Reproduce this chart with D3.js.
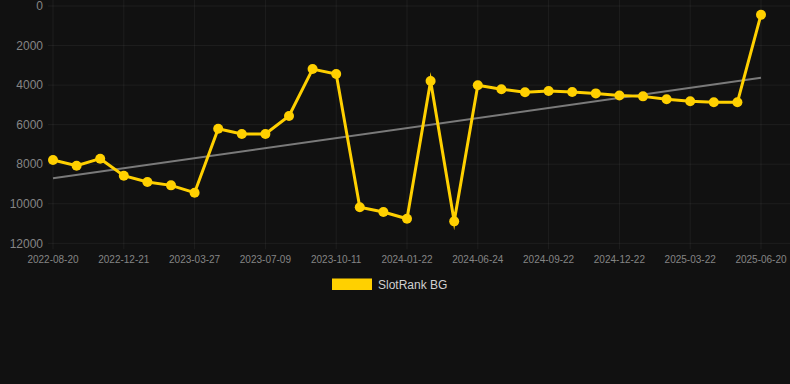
<!DOCTYPE html>
<html><head><meta charset="utf-8">
<script src="https://cdn.jsdelivr.net/npm/d3@7"></script>
<style>
html,body{margin:0;padding:0;background:#111111;}
svg{display:block;}
</style></head>
<body>
<svg id="chart" width="790" height="384"></svg>
<script>
const dates = ["2022-08-20","2022-10-01","2022-11-10","2022-12-21","2023-01-22","2023-02-24","2023-03-27","2023-04-28","2023-06-05","2023-07-09","2023-08-10","2023-09-09","2023-10-11","2023-11-14","2023-12-18","2024-01-22","2024-03-10","2024-05-02","2024-06-24","2024-07-24","2024-08-23","2024-09-22","2024-10-22","2024-11-21","2024-12-22","2025-01-21","2025-02-20","2025-03-22","2025-04-21","2025-05-21","2025-06-20"];
const ranks = [7790,8080,7720,8580,8900,9070,9440,6210,6470,6470,5560,3190,3440,10180,10420,10760,3790,10890,4010,4210,4360,4300,4350,4420,4530,4570,4720,4820,4870,4870,440];
const yTicks = [0,2000,4000,6000,8000,10000,12000];
const seriesName = "SlotRank BG";

const svg = d3.select("#chart");
const pLeft = 53, pRight = 761, pTop = 6, pBottom = 243.3;
const x = d3.scalePoint().domain(dates).range([pLeft, pRight]);
const y = d3.scaleLinear().domain([0, 12000]).range([pTop, pBottom]);

const gridColor = "rgba(255,255,255,0.055)";
svg.append("g").selectAll("line").data(yTicks).join("line")
  .attr("x1", pLeft - 5).attr("x2", 790)
  .attr("y1", d => y(d)).attr("y2", d => y(d))
  .attr("stroke", gridColor).attr("stroke-width", 1);
const shown = dates.filter((d, i) => i % 3 === 0);
svg.append("g").selectAll("line").data(shown).join("line")
  .attr("x1", d => x(d)).attr("x2", d => x(d))
  .attr("y1", 0).attr("y2", pBottom + 6)
  .attr("stroke", gridColor).attr("stroke-width", 1);

svg.append("g").selectAll("text").data(yTicks).join("text")
  .attr("x", 43).attr("y", d => y(d)).attr("dy", "0.35em")
  .attr("text-anchor", "end")
  .attr("font-family", "Liberation Sans, Arial, sans-serif")
  .attr("font-size", 12).attr("fill", "#858585")
  .text(d => d);
svg.append("g").selectAll("text").data(shown).join("text")
  .attr("x", d => x(d)).attr("y", 259).attr("dy", "0.35em")
  .attr("text-anchor", "middle")
  .attr("font-family", "Liberation Sans, Arial, sans-serif")
  .attr("font-size", 10).attr("fill", "#858585")
  .text(d => d);

const n = ranks.length;
const mx = d3.mean(ranks, (d, i) => i), my = d3.mean(ranks);
const slope = d3.sum(ranks, (d, i) => (i - mx) * (d - my)) / d3.sum(ranks, (d, i) => (i - mx) * (i - mx));
const b = my - slope * mx;
svg.append("line")
  .attr("x1", x(dates[0])).attr("y1", y(b))
  .attr("x2", x(dates[n - 1])).attr("y2", y(b + slope * (n - 1)))
  .attr("stroke", "#7a7a7a").attr("stroke-width", 2);

const gold = "#ffd000";
const line = d3.line().x((d, i) => x(dates[i])).y(d => y(d));
svg.append("path").datum(ranks)
  .attr("d", line).attr("fill", "none")
  .attr("stroke", gold).attr("stroke-width", 3)
  .attr("stroke-linejoin", "miter").attr("stroke-miterlimit", 10);
svg.append("g").selectAll("circle").data(ranks).join("circle")
  .attr("cx", (d, i) => x(dates[i])).attr("cy", d => y(d)).attr("r", 5)
  .attr("fill", gold);

svg.append("rect").attr("x", 332).attr("y", 278.5).attr("width", 40).attr("height", 11.5)
  .attr("fill", gold);
svg.append("text").attr("x", 378).attr("y", 284.5).attr("dy", "0.35em")
  .attr("font-family", "Liberation Sans, Arial, sans-serif")
  .attr("font-size", 12).attr("fill", "#d0d0d0").text(seriesName);
</script>
</body></html>
